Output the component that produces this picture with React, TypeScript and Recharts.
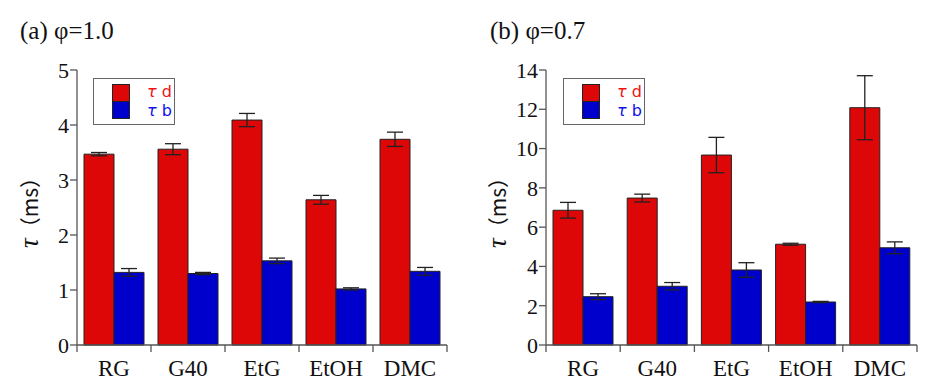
import React from "react";
import { BarChart, Bar, XAxis, YAxis, ErrorBar, Legend, Label } from "recharts";

const categories = ["RG", "G40", "EtG", "EtOH", "DMC"];

// (a) phi = 1.0
const tauD10 = [3.47, 3.56, 4.09, 2.64, 3.74];
const tauD10Err = [0.03, 0.1, 0.12, 0.08, 0.13];
const tauB10 = [1.32, 1.3, 1.53, 1.02, 1.34];
const tauB10Err = [0.07, 0.02, 0.05, 0.02, 0.07];
const ticks10 = [0, 1, 2, 3, 4, 5];

// (b) phi = 0.7
const tauD07 = [6.86, 7.48, 9.67, 5.13, 12.08];
const tauD07Err = [0.4, 0.2, 0.9, 0.05, 1.63];
const tauB07 = [2.46, 2.99, 3.82, 2.19, 4.95];
const tauB07Err = [0.15, 0.19, 0.37, 0.03, 0.3];
const ticks07 = [0, 2, 4, 6, 8, 10, 12, 14];

const RED = "#dd0707";
const BLUE = "#0000cc";
const AXIS = "#555";
const SERIF = "'Liberation Serif', 'Times New Roman', serif";

const build = (d: number[], dErr: number[], b: number[], bErr: number[]) =>
  categories.map((name, i) => ({ name, d: d[i], dErr: dErr[i], b: b[i], bErr: bErr[i] }));

const data10 = build(tauD10, tauD10Err, tauB10, tauB10Err);
const data07 = build(tauD07, tauD07Err, tauB07, tauB07Err);

const W = 475;
const H = 386;
const TOP = 70;
const BOTTOM = 41;

function BottomTick(props: any) {
  const { x, y, payload, index, catW } = props;
  const half = catW / 2;
  return (
    <g>
      <line x1={x - half} x2={x - half} y1={y} y2={y + 7} stroke={AXIS} strokeWidth={1.3} />
      {index === categories.length - 1 && (
        <line x1={x + half} x2={x + half} y1={y} y2={y + 7} stroke={AXIS} strokeWidth={1.3} />
      )}
      <text x={x} y={y + 31} textAnchor="middle" fontFamily={SERIF} fontSize={23} fill="#111">
        {payload.value}
      </text>
    </g>
  );
}

function TopTick(props: any) {
  const { x, y, index, catW } = props;
  const half = catW / 2;
  return (
    <g>
      <line x1={x - half} x2={x - half} y1={y} y2={y - 7} stroke={AXIS} strokeWidth={1.3} />
      {index === categories.length - 1 && (
        <line x1={x + half} x2={x + half} y1={y} y2={y - 7} stroke={AXIS} strokeWidth={1.3} />
      )}
    </g>
  );
}

function LegendBox() {
  const sw = { width: 16, height: 16, border: "1px solid #222" } as const;
  const txt = {
    fontFamily: "'DejaVu Sans', sans-serif",
    fontSize: 16,
    lineHeight: "18.5px",
    height: 18.5,
    whiteSpace: "nowrap",
  } as const;
  return (
    <div
      style={{
        width: 82,
        height: 47,
        border: "1.3px solid #666",
        background: "#fff",
        display: "flex",
        alignItems: "center",
        boxSizing: "border-box",
      }}
    >
      <div style={{ marginLeft: 18, display: "flex", flexDirection: "column" }}>
        <div style={{ ...sw, background: RED }} />
        <div style={{ ...sw, background: BLUE, marginTop: -1 }} />
      </div>
      <div style={{ marginLeft: 17, display: "flex", flexDirection: "column" }}>
        <div style={{ ...txt, color: "#ee1111" }}>
          <i>τ</i> d
        </div>
        <div style={{ ...txt, color: "#1111ee" }}>
          <i>τ</i> b
        </div>
      </div>
    </div>
  );
}

interface PanelProps {
  data: { name: string; d: number; dErr: number; b: number; bErr: number }[];
  ticks: number[];
  axisW: number;
  rightM: number;
  labelX: number;
  legendX: number;
}

function Panel({ data, ticks, axisW, rightM, labelX, legendX }: PanelProps) {
  const plotW = W - axisW - rightM;
  const catW = plotW / categories.length;
  const max = ticks[ticks.length - 1];
  const cy = TOP + (H - TOP - BOTTOM) / 2;
  return (
    <BarChart
      width={W}
      height={H}
      data={data}
      margin={{ top: TOP, right: rightM, bottom: BOTTOM - 30, left: 0 }}
      barGap={0}
    >
      <XAxis
        xAxisId="bottom"
        dataKey="name"
        height={30}
        axisLine={{ stroke: AXIS, strokeWidth: 1.3 }}
        tickLine={false}
        tickSize={0}
        tickMargin={0}
        interval={0}
        tick={<BottomTick catW={catW} />}
      />
      <XAxis
        xAxisId="top"
        orientation="top"
        dataKey="name"
        height={0}
        axisLine={{ stroke: AXIS, strokeWidth: 1.3 }}
        tickLine={false}
        tickSize={0}
        tickMargin={0}
        interval={0}
        tick={<TopTick catW={catW} />}
      />
      <YAxis
        yAxisId="left"
        width={axisW}
        domain={[0, max]}
        ticks={ticks}
        interval={0}
        axisLine={{ stroke: AXIS, strokeWidth: 1.3 }}
        tickLine={{ stroke: AXIS, strokeWidth: 1.3 }}
        tickSize={7}
        tickMargin={1}
        tick={{ fontFamily: SERIF, fontSize: 22, fill: "#111" }}
      >
        <Label
          content={() => (
            <text
              x={labelX}
              y={cy}
              textAnchor="middle"
              dominantBaseline="central"
              transform={`rotate(-90 ${labelX} ${cy})`}
              fill="#111"
            >
              <tspan fontFamily={SERIF} fontStyle="italic" fontSize={27}>
                τ
              </tspan>
              <tspan fontFamily="'Noto Sans CJK JP', sans-serif" fontSize={21}>
                （ms）
              </tspan>
            </text>
          )}
        />
      </YAxis>
      <YAxis
        yAxisId="right"
        orientation="right"
        width={0}
        domain={[0, max]}
        ticks={ticks}
        interval={0}
        axisLine={{ stroke: AXIS, strokeWidth: 1.3 }}
        tickLine={{ stroke: AXIS, strokeWidth: 1.3 }}
        tickSize={6}
        tickFormatter={() => ""}
      />
      <Legend
        layout="horizontal"
        verticalAlign="middle"
        align="center"
        content={() => <LegendBox />}
        wrapperStyle={{ left: legendX, top: 78, width: 82, height: 47 }}
      />
      <Bar
        xAxisId="bottom"
        yAxisId="left"
        dataKey="d"
        name="τ d"
        fill={RED}
        stroke="#222"
        strokeWidth={1}
        barSize={30}
        isAnimationActive={false}
      >
        <ErrorBar dataKey="dErr" width={8} stroke="#222" strokeWidth={1.3} />
      </Bar>
      <Bar
        xAxisId="bottom"
        yAxisId="left"
        dataKey="b"
        name="τ b"
        fill={BLUE}
        stroke="#222"
        strokeWidth={1}
        barSize={30}
        isAnimationActive={false}
      >
        <ErrorBar dataKey="bErr" width={8} stroke="#222" strokeWidth={1.3} />
      </Bar>
    </BarChart>
  );
}

const titleStyle: React.CSSProperties = {
  position: "absolute",
  top: 18,
  fontFamily: SERIF,
  fontSize: 25,
  lineHeight: "25px",
  color: "#111",
  whiteSpace: "nowrap",
};

export default function App() {
  return (
    <div style={{ position: "absolute", left: 0, top: 0, width: 951, height: 386, background: "#fff" }}>
      <div style={{ position: "absolute", left: 0, top: 0 }}>
        <Panel data={data10} ticks={ticks10} axisW={77} rightM={28} labelX={29} legendX={93} />
      </div>
      <div style={{ position: "absolute", left: 476, top: 0 }}>
        <Panel data={data07} ticks={ticks07} axisW={70} rightM={34} labelX={21} legendX={87} />
      </div>
      <div style={{ ...titleStyle, left: 20 }}>(a) φ=1.0</div>
      <div style={{ ...titleStyle, left: 490 }}>(b) φ=0.7</div>
    </div>
  );
}
